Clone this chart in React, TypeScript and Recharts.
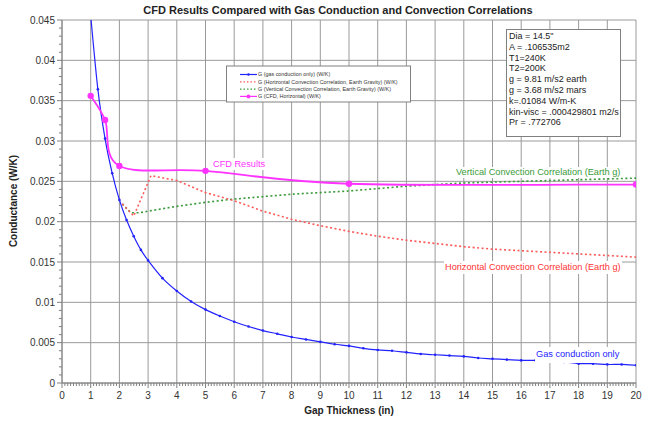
import React from 'react';
import { LineChart, Line, XAxis, YAxis, CartesianGrid } from 'recharts';

const FONT = '"Liberation Sans", Arial, Helvetica, sans-serif';

// Axis ticks
const xMajor = [0, 1, 2, 3, 4, 5, 6, 7, 8, 9, 10, 11, 12, 13, 14, 15, 16, 17, 18, 19, 20];
const yMajor = [0, 0.005, 0.01, 0.015, 0.02, 0.025, 0.03, 0.035, 0.04, 0.045];
const xAll: number[] = [];
for (let i = 0; i <= 200; i++) xAll.push(i / 10);
const yAll: number[] = [];
for (let i = 0; i <= 45; i++) yAll.push(i / 1000);

// Series: gas conduction only
const gasX = [1, 1.25, 1.5, 1.75, 2, 2.25, 2.5, 2.75, 3, 3.5, 4, 4.5, 5, 5.5, 6, 6.5, 7, 7.5, 8, 8.5, 9, 9.5, 10, 10.5, 11, 11.5, 12, 12.5, 13, 13.5, 14, 14.5, 15, 15.5, 16, 16.5, 17, 17.5, 18, 18.5, 19, 19.5, 20];
const gasY = [0.0455, 0.0364, 0.0303, 0.026, 0.0227, 0.0202, 0.0182, 0.0165, 0.0152, 0.013, 0.0114, 0.0101, 0.0091, 0.0083, 0.0076, 0.007, 0.0065, 0.0061, 0.0057, 0.0054, 0.0051, 0.0048, 0.0046, 0.0043, 0.0041, 0.004, 0.0038, 0.0036, 0.0035, 0.0034, 0.0033, 0.0031, 0.003, 0.0029, 0.0028, 0.0028, 0.0027, 0.0026, 0.0024, 0.0024, 0.0023, 0.0023, 0.0022];

// Series: horizontal convection correlation (Earth g)
const horX = [2.1, 2.5, 3.1, 4, 5, 6, 7, 8, 9, 10, 11, 12, 13, 14, 15, 16, 17, 18, 19, 20];
const horY = [0.0222, 0.0207, 0.0257, 0.0251, 0.0236, 0.0226, 0.0213, 0.0203, 0.0195, 0.0188, 0.0182, 0.0177, 0.0173, 0.0169, 0.0166, 0.0164, 0.0162, 0.016, 0.0158, 0.0156];

// Series: vertical convection correlation (Earth g)
const verX = [2.1, 2.4, 2.7, 3, 3.5, 4, 5, 6, 7, 8, 9, 10, 11, 12, 13, 14, 15, 16, 17, 18, 19, 20];
const verY = [0.0222, 0.0211, 0.0211, 0.0213, 0.0216, 0.0219, 0.0224, 0.0228, 0.0231, 0.0234, 0.0236, 0.0238, 0.0241, 0.0244, 0.0246, 0.0248, 0.0249, 0.025, 0.0251, 0.0252, 0.0253, 0.0254];

// Series: CFD, horizontal
const cfdX = [1, 1.5, 2, 5, 10, 20];
const cfdY = [0.0356, 0.0326, 0.0269, 0.0263, 0.0247, 0.0246];

const legendLabels = [
  'G (gas conduction only) (W/K)',
  'G (Horizontal Convection Correlation, Earth Gravity) (W/K)',
  'G (Vertical Convection Correlation, Earth Gravity) (W/K)',
  'G (CFD, Horizontal) (W/K)',
];

const infoLines = [
  'Dia = 14.5"',
  'A = .106535m2',
  'T1=240K',
  'T2=200K',
  'g = 9.81 m/s2 earth',
  'g = 3.68 m/s2 mars',
  'k=.01084 W/m-K',
  'kin-visc = .000429801 m2/s',
  'Pr = .772706',
];

const BLUE = '#2323ff';
const RED = '#ff5a5a';
const GREEN = '#3a9a3a';
const MAGENTA = '#ff33ff';

const toData = (xs: number[], ys: number[]) => xs.map((x, i) => ({ x, v: ys[i] }));
const gasData = toData(gasX, gasY);
const horData = toData(horX, horY);
const verData = toData(verX, verY);
const cfdData = toData(cfdX, cfdY);

// Excel-like smoothed line (Catmull-Rom through the points)
function smoothCurve(context: any) {
  let pts: number[][] = [];
  return {
    areaStart() {},
    areaEnd() {},
    lineStart() {
      pts = [];
    },
    lineEnd() {
      const n = pts.length;
      if (n === 0) return;
      context.moveTo(pts[0][0], pts[0][1]);
      for (let i = 0; i < n - 1; i++) {
        const p0 = pts[Math.max(0, i - 1)];
        const p1 = pts[i];
        const p2 = pts[i + 1];
        const p3 = pts[Math.min(n - 1, i + 2)];
        const c1x = p1[0] + (p2[0] - p0[0]) / 6;
        const c1y = p1[1] + (p2[1] - p0[1]) / 6;
        const c2x = p2[0] - (p3[0] - p1[0]) / 6;
        const c2y = p2[1] - (p3[1] - p1[1]) / 6;
        context.bezierCurveTo(c1x, c1y, c2x, c2y, p2[0], p2[1]);
      }
    },
    point(x: number, y: number) {
      pts.push([+x, +y]);
    },
  };
}

const XTick = (props: any) => {
  const { x, y, payload } = props;
  const v = payload.value;
  const major = Math.abs(v - Math.round(v)) < 1e-6;
  return (
    <g>
      <line x1={x} x2={x} y1={y} y2={y + (major ? 5 : 3)} stroke="#808080" strokeWidth={1} />
      {major && (
        <text x={x} y={y + 16} textAnchor="middle" fontSize={10} fill="#333" fontFamily={FONT}>
          {Math.round(v)}
        </text>
      )}
    </g>
  );
};

const YTick = (props: any) => {
  const { x, y, payload } = props;
  const v = payload.value;
  const k = Math.round(v * 1000);
  const major = k % 5 === 0;
  return (
    <g>
      <line x1={x - (major ? 5 : 3)} x2={x} y1={y} y2={y} stroke="#808080" strokeWidth={1} />
      {major && (
        <text x={x - 7} y={y + 3.5} textAnchor="end" fontSize={10} fill="#333" fontFamily={FONT}>
          {String(Number(v.toFixed(3)))}
        </text>
      )}
    </g>
  );
};

const labelStyle = (left: number, top: number, h: number, color: string): React.CSSProperties => ({
  position: 'absolute',
  left,
  top,
  height: h,
  lineHeight: h + 'px',
  fontSize: 9.2,
  color,
  background: '#fff',
  whiteSpace: 'nowrap',
  padding: '0 1px',
  fontFamily: FONT,
});

export default function App() {
  const legendColors = [BLUE, RED, GREEN, MAGENTA];
  return (
    <div style={{ position: 'absolute', left: 0, top: 0, width: 648, height: 425, background: '#fff', fontFamily: FONT, overflow: 'hidden' }}>
      <LineChart width={648} height={425} margin={{ top: 20, right: 12, bottom: 12, left: 0 }}>
        <CartesianGrid stroke="#9a9a9a" strokeWidth={1} horizontalValues={yMajor} verticalValues={xMajor} />
        <XAxis
          type="number"
          dataKey="x"
          domain={[0, 20]}
          ticks={xAll}
          interval={0}
          tickSize={0}
          tickMargin={0}
          tickLine={false}
          tick={(p: any) => <XTick {...p} />}
          height={30}
          axisLine={{ stroke: '#808080' }}
          allowDataOverflow
        />
        <YAxis
          type="number"
          domain={[0, 0.045]}
          ticks={yAll}
          interval={0}
          tickSize={0}
          tickMargin={0}
          tickLine={false}
          tick={(p: any) => <YTick {...p} />}
          width={62}
          axisLine={{ stroke: '#808080' }}
          allowDataOverflow
        />
        <Line data={verData} dataKey="v" type="linear" stroke={GREEN} strokeWidth={1.6} strokeDasharray="2 2.5" dot={false} isAnimationActive={false} />
        <Line data={horData} dataKey="v" type="linear" stroke={RED} strokeWidth={1.6} strokeDasharray="2 2.5" dot={false} isAnimationActive={false} />
        <Line data={gasData} dataKey="v" type={smoothCurve as any} stroke={BLUE} strokeWidth={1.2} dot={{ r: 1.3, fill: BLUE, stroke: 'none' }} isAnimationActive={false} />
        <Line data={cfdData} dataKey="v" type={smoothCurve as any} stroke={MAGENTA} strokeWidth={1.8} dot={{ r: 3.2, fill: MAGENTA, stroke: 'none' }} isAnimationActive={false} />
      </LineChart>

      <svg width={648} height={425} style={{ position: 'absolute', left: 0, top: 0, pointerEvents: 'none' }}>
        <text x={338} y={14} textAnchor="middle" fontSize={11} fontWeight="bold" fill="#222" fontFamily={FONT}>
          CFD Results Compared with Gas Conduction and Convection Correlations
        </text>
        <text x={349} y={414} textAnchor="middle" fontSize={10} fontWeight="bold" fill="#222" fontFamily={FONT}>
          Gap Thickness (in)
        </text>
        <text
          x={0}
          y={0}
          transform="translate(17 201) rotate(-90)"
          textAnchor="middle"
          fontSize={10}
          fontWeight="bold"
          fill="#222"
          fontFamily={FONT}
        >
          Conductance (W/K)
        </text>

        <rect x={226.5} y={66} width={184} height={36} fill="#fff" stroke="#808080" strokeWidth={1} />
        {legendLabels.map((lab, i) => {
          const cy = 74.5 + i * 7.3;
          const c = legendColors[i];
          const dotted = i === 1 || i === 2;
          return (
            <g key={lab}>
              <line x1={240} x2={257} y1={cy} y2={cy} stroke={c} strokeWidth={1.2} strokeDasharray={dotted ? '1.5 2' : undefined} />
              {i === 0 && <circle cx={248.5} cy={cy} r={1.2} fill={c} />}
              {i === 3 && <circle cx={248.5} cy={cy} r={2} fill={c} />}
              <text x={258} y={cy + 1.9} fontSize={5.4} fill="#333" fontFamily={FONT}>
                {lab}
              </text>
            </g>
          );
        })}
      </svg>

      <div
        style={{
          position: 'absolute',
          left: 506,
          top: 29,
          width: 115,
          height: 108,
          border: '1px solid #808080',
          background: '#fff',
          fontSize: 9,
          lineHeight: '10.8px',
          color: '#222',
          paddingLeft: 2,
          paddingTop: 1,
          boxSizing: 'border-box',
          fontFamily: FONT,
          whiteSpace: 'nowrap',
        }}
      >
        {infoLines.map((t) => (
          <div key={t}>{t}</div>
        ))}
      </div>

      <div style={labelStyle(212, 158, 12, MAGENTA)}>CFD Results</div>
      <div style={labelStyle(455, 167, 11, GREEN)}>Vertical Convection Correlation (Earth g)</div>
      <div style={labelStyle(444, 261, 13, '#ff3333')}>Horizontal Convection Correlation (Earth g)</div>
      <div style={labelStyle(535, 347, 15.5, BLUE)}>Gas conduction only</div>
    </div>
  );
}
